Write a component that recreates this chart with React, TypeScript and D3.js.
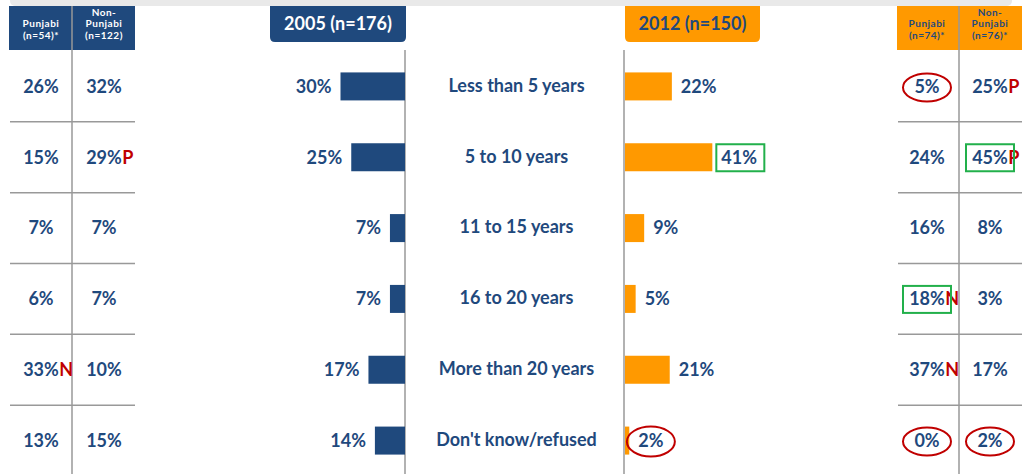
import React, { useRef, useEffect } from 'react';
import * as d3 from 'd3';

const categories = ["Less than 5 years", "5 to 10 years", "11 to 15 years", "16 to 20 years", "More than 20 years", "Don't know/refused"];
const values2005 = [30, 25, 7, 7, 17, 14];
const values2012 = [22, 41, 9, 5, 21, 2];
const punjabi2005 = [26, 15, 7, 6, 33, 13];
const nonPunjabi2005 = [32, 29, 7, 7, 10, 15];
const punjabi2012 = [5, 24, 16, 18, 37, 0];
const nonPunjabi2012 = [25, 45, 8, 3, 17, 2];
// significance letters per cell
const flagsPunjabi2005 = ["", "", "", "", "N", ""];
const flagsNonPunjabi2005 = ["", "P", "", "", "", ""];
const flagsPunjabi2012 = ["", "", "", "N", "N", ""];
const flagsNonPunjabi2012 = ["P", "P", "", "", "", ""];
// highlight marks: "o" = red ellipse, "b" = green box
const marks2012 = ["", "b", "", "", "", "o"];
const marksPunjabi2012 = ["o", "", "", "b", "", "o"];
const marksNonPunjabi2012 = ["", "b", "", "", "", "o"];

const BLUE = "#1f497d";
const ORANGE = "#ff9900";
const RED = "#c00000";
const GREEN = "#22b04b";
const GRID = "#999999";
const FONT = "Lato, 'Open Sans', sans-serif";
const FS = "18px";

const App = () => {
  const ref = useRef(null);

  useEffect(() => {
    const svg = d3.select(ref.current);
    svg.selectAll("*").remove();

    const height = 474;
    const axis2005 = 405;
    const axis2012 = 624;

    const y = d3.scaleBand().domain(categories).range([51, 476]);
    const cy = (i) => y(categories[i]) + y.bandwidth() / 2;
    const barH = 28;

    const x2005 = d3.scaleLinear().domain([0, 100]).range([axis2005, axis2005 - 215]);
    const x2012 = d3.scaleLinear().domain([0, 100]).range([axis2012, axis2012 + 213]);

    // top grey band
    svg.append("rect")
      .attr("x", 10).attr("y", -6).attr("width", 1002).attr("height", 12)
      .attr("rx", 5).attr("fill", "#e9e9e9");

    // vertical axis lines
    [axis2005, axis2012].forEach(ax => {
      svg.append("line")
        .attr("x1", ax).attr("x2", ax).attr("y1", 50).attr("y2", height)
        .attr("stroke", GRID).attr("stroke-width", 1.5);
    });

    // header boxes for year
    const yearHead = [
      { x: 270, w: 136, fill: BLUE, color: "#ffffff", text: "2005 (n=176)" },
      { x: 625, w: 135, fill: ORANGE, color: BLUE, text: "2012 (n=150)" },
    ];
    yearHead.forEach(h => {
      svg.append("path")
        .attr("d", `M${h.x},6 H${h.x + h.w} V${37} Q${h.x + h.w},42 ${h.x + h.w - 5},42 H${h.x + 5} Q${h.x},42 ${h.x},37 Z`)
        .attr("fill", h.fill);
      svg.append("text")
        .attr("x", h.x + h.w / 2).attr("y", 24).attr("dy", "0.35em")
        .attr("text-anchor", "middle").attr("font-family", FONT).attr("font-weight", "bold")
        .attr("font-size", FS).attr("fill", h.color).text(h.text);
    });

    // side tables
    const tables = [
      {
        x0: 9, x1: 135, mid: 72, fill: BLUE, headColor: "#ffffff",
        cols: [
          { cx: 41, head: ["Punjabi", "(n=54)*"], vals: punjabi2005, flags: flagsPunjabi2005, marks: null },
          { cx: 104, head: ["Non-", "Punjabi", "(n=122)"], vals: nonPunjabi2005, flags: flagsNonPunjabi2005, marks: null },
        ],
      },
      {
        x0: 897, x1: 1022, mid: 959, fill: ORANGE, headColor: BLUE,
        cols: [
          { cx: 927, head: ["Punjabi", "(n=74)*"], vals: punjabi2012, flags: flagsPunjabi2012, marks: marksPunjabi2012 },
          { cx: 990, head: ["Non-", "Punjabi", "(n=76)*"], vals: nonPunjabi2012, flags: flagsNonPunjabi2012, marks: marksNonPunjabi2012 },
        ],
      },
    ];

    tables.forEach(t => {
      svg.append("rect")
        .attr("x", t.x0).attr("y", 6).attr("width", t.x1 - t.x0).attr("height", 44)
        .attr("fill", t.fill);
      svg.append("line")
        .attr("x1", t.mid).attr("x2", t.mid).attr("y1", 6).attr("y2", height)
        .attr("stroke", GRID).attr("stroke-width", 1.5);
      categories.slice(0, -1).forEach((c) => {
        svg.append("line")
          .attr("x1", t.x0 + 1).attr("x2", t.x1)
          .attr("y1", y(c) + y.bandwidth()).attr("y2", y(c) + y.bandwidth())
          .attr("stroke", GRID).attr("stroke-width", 1.5);
      });
      t.cols.forEach(col => {
        const n = col.head.length;
        col.head.forEach((line, k) => {
          svg.append("text")
            .attr("x", col.cx).attr("y", 38.5 - (n - 1 - k) * 11.5)
            .attr("text-anchor", "middle").attr("font-family", FONT).attr("font-weight", "bold")
            .attr("font-size", "10px").attr("letter-spacing", "0.5px")
            .attr("fill", t.headColor).text(line);
        });
        col.vals.forEach((v, i) => {
          const txt = svg.append("text")
            .attr("x", col.cx).attr("y", cy(i)).attr("dy", "0.35em")
            .attr("text-anchor", "middle").attr("font-family", FONT).attr("font-weight", "bold")
            .attr("font-size", FS).attr("fill", BLUE).text(`${v}%`);
          const tw = txt.node().getComputedTextLength();
          if (col.flags[i]) {
            svg.append("text")
              .attr("x", col.cx + tw / 2 + 0.5).attr("y", cy(i)).attr("dy", "0.35em")
              .attr("font-family", FONT).attr("font-weight", "bold")
              .attr("font-size", FS).attr("fill", RED).text(col.flags[i]);
          }
          const m = col.marks ? col.marks[i] : "";
          if (m === "o") {
            svg.append("ellipse")
              .attr("cx", col.cx).attr("cy", cy(i) + 1).attr("rx", 24).attr("ry", 14)
              .attr("fill", "none").attr("stroke", RED).attr("stroke-width", 2);
          } else if (m === "b") {
            svg.append("rect")
              .attr("x", col.cx - 24).attr("y", cy(i) - 13).attr("width", 48).attr("height", 27)
              .attr("fill", "none").attr("stroke", GREEN).attr("stroke-width", 2);
          }
        });
      });
    });

    // 2005 bars
    svg.append("g").selectAll("rect").data(values2005).join("rect")
      .attr("x", d => x2005(d)).attr("width", d => axis2005 - x2005(d))
      .attr("y", (d, i) => cy(i) - barH / 2).attr("height", barH)
      .attr("fill", BLUE);
    svg.append("g").selectAll("text").data(values2005).join("text")
      .attr("x", d => x2005(d) - 9).attr("y", (d, i) => cy(i)).attr("dy", "0.35em")
      .attr("text-anchor", "end").attr("font-family", FONT).attr("font-weight", "bold")
      .attr("font-size", FS).attr("fill", BLUE).text(d => `${d}%`);

    // 2012 bars
    svg.append("g").selectAll("rect").data(values2012).join("rect")
      .attr("x", axis2012 + 1).attr("width", d => x2012(d) - axis2012)
      .attr("y", (d, i) => cy(i) - barH / 2).attr("height", barH)
      .attr("fill", ORANGE);
    values2012.forEach((d, i) => {
      const txt = svg.append("text")
        .attr("x", x2012(d) + 10).attr("y", cy(i)).attr("dy", "0.35em")
        .attr("font-family", FONT).attr("font-weight", "bold")
        .attr("font-size", FS).attr("fill", BLUE).text(`${d}%`);
      const tw = txt.node().getComputedTextLength();
      const mx = x2012(d) + 10 + tw / 2;
      if (marks2012[i] === "o") {
        svg.append("ellipse")
          .attr("cx", mx).attr("cy", cy(i) + 1).attr("rx", 24).attr("ry", 15)
          .attr("fill", "none").attr("stroke", RED).attr("stroke-width", 2);
      } else if (marks2012[i] === "b") {
        svg.append("rect")
          .attr("x", x2012(d) + 5).attr("y", cy(i) - 13).attr("width", 48).attr("height", 27)
          .attr("fill", "none").attr("stroke", GREEN).attr("stroke-width", 2);
      }
    });

    // category labels
    svg.append("g").selectAll("text").data(categories).join("text")
      .attr("x", (axis2005 + axis2012) / 2 + 2).attr("y", (d, i) => cy(i) - 1).attr("dy", "0.35em")
      .attr("text-anchor", "middle").attr("font-family", FONT).attr("font-weight", "bold")
      .attr("font-size", FS).attr("fill", BLUE).text(d => d);
  }, []);

  return (
    <svg ref={ref} width="1022" height="474"
      style={{ position: 'absolute', left: 0, top: 0, background: '#ffffff' }} />
  );
};

export default App;
